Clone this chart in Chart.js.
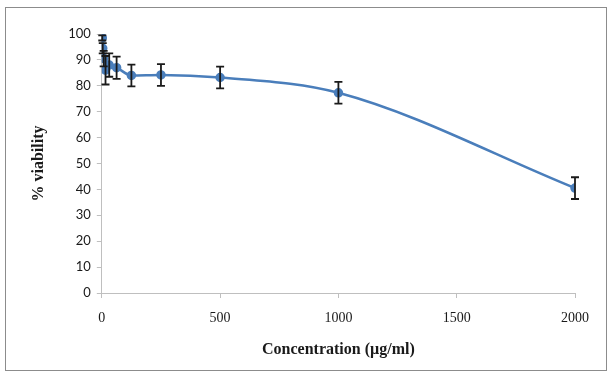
<!DOCTYPE html>
<html>
<head>
<meta charset="utf-8">
<script src="https://cdn.jsdelivr.net/npm/chart.js@4"></script>
<style>
  html, body { margin: 0; padding: 0; background: #fff; }
  #wrap { position: relative; width: 612px; height: 375px; }
  #frame { position: absolute; left: 5px; top: 7px; width: 602px; height: 364px; border: 1px solid #8c8c8c; box-sizing: border-box; }
  canvas { position: absolute; left: 0; top: 0; }
</style>
</head>
<body>
<div id="wrap">
  <div id="frame"></div>
  <canvas id="viabilityChart" width="612" height="375"></canvas>
</div>
<script>
// concentration (µg/ml) and % viability with error
var concentrations = [1.95, 3.9, 7.8, 15.6, 31.25, 62.5, 125, 250, 500, 1000, 2000];
var viability = [98.5, 94.5, 90.5, 86, 88, 87, 84, 84.2, 83.2, 77.3, 40.5];
var errors = [1, 2, 3, 5.5, 4.5, 4.3, 4.2, 4.2, 4.2, 4.2, 4.2];
var xTicks = [0, 500, 1000, 1500, 2000];
var yTicks = [0, 10, 20, 30, 40, 50, 60, 70, 80, 90, 100];

var points = concentrations.map(function(c, i) {
    return {x: c, y: viability[i]};
});

// draws the error bars through the chart scales
var errorBars = {
    id: 'errorBars',
    afterDatasetsDraw: function(chart) {
        var ctx = chart.ctx;
        var xs = chart.scales.x, ys = chart.scales.y;
        ctx.save();
        ctx.strokeStyle = '#1a1a1a';
        ctx.lineWidth = 1.8;
        concentrations.forEach(function(c, i) {
            var px = xs.getPixelForValue(c);
            var top = ys.getPixelForValue(viability[i] + errors[i]);
            var bot = ys.getPixelForValue(viability[i] - errors[i]);
            ctx.beginPath();
            ctx.moveTo(px, top); ctx.lineTo(px, bot);
            ctx.moveTo(px - 4, top); ctx.lineTo(px + 4, top);
            ctx.moveTo(px - 4, bot); ctx.lineTo(px + 4, bot);
            ctx.stroke();
        });
        ctx.restore();
    }
};

var ctx = document.getElementById('viabilityChart').getContext('2d');
var chart = new Chart(ctx, {
    type: 'scatter',
    data: {
        datasets: [
            {
                label: 'viability',
                data: points,
                showLine: true,
                borderColor: '#4a7ebb',
                backgroundColor: '#4a7ebb',
                borderWidth: 2.5,
                pointRadius: 3.5,
                cubicInterpolationMode: 'monotone',
            },
        ]
    },
    plugins: [errorBars],
    options: {
        responsive: false,
        animation: false,
        layout: {
            padding: {left: 25, right: 37, top: 34, bottom: 12}
        },
        scales: {
            x: {
                type: 'linear',
                min: 0,
                max: 2000,
                afterBuildTicks: function(axis) {
                    axis.ticks = xTicks.map(function(v) { return {value: v}; });
                },
                grid: {
                    display: true,
                    drawOnChartArea: false,
                    tickLength: 5,
                    color: '#bfbfbf',
                },
                border: {color: '#bfbfbf'},
                ticks: {
                    color: '#1a1a1a',
                    font: {family: 'Liberation Serif', size: 14},
                    padding: 12,
                    callback: function(v) { return String(v); }
                },
                title: {
                    display: true,
                    text: 'Concentration (µg/ml)',
                    color: '#1a1a1a',
                    font: {family: 'Liberation Serif', size: 16, weight: 'bold'},
                    padding: {top: 1}
                }
            },
            y: {
                min: 0,
                max: 100,
                afterBuildTicks: function(axis) {
                    axis.ticks = yTicks.map(function(v) { return {value: v}; });
                },
                grid: {
                    display: true,
                    drawOnChartArea: false,
                    tickLength: 5,
                    color: '#bfbfbf',
                },
                border: {color: '#bfbfbf'},
                ticks: {
                    color: '#1a1a1a',
                    font: {family: 'Lato', size: 13},
                    padding: 6,
                },
                title: {
                    display: true,
                    text: '% viability',
                    color: '#1a1a1a',
                    font: {family: 'Liberation Serif', size: 16, weight: 'bold'},
                    padding: {bottom: 14}
                }
            }
        },
        plugins: {
            legend: {display: false},
            tooltip: {enabled: false}
        }
    }
});
</script>
</body>
</html>
